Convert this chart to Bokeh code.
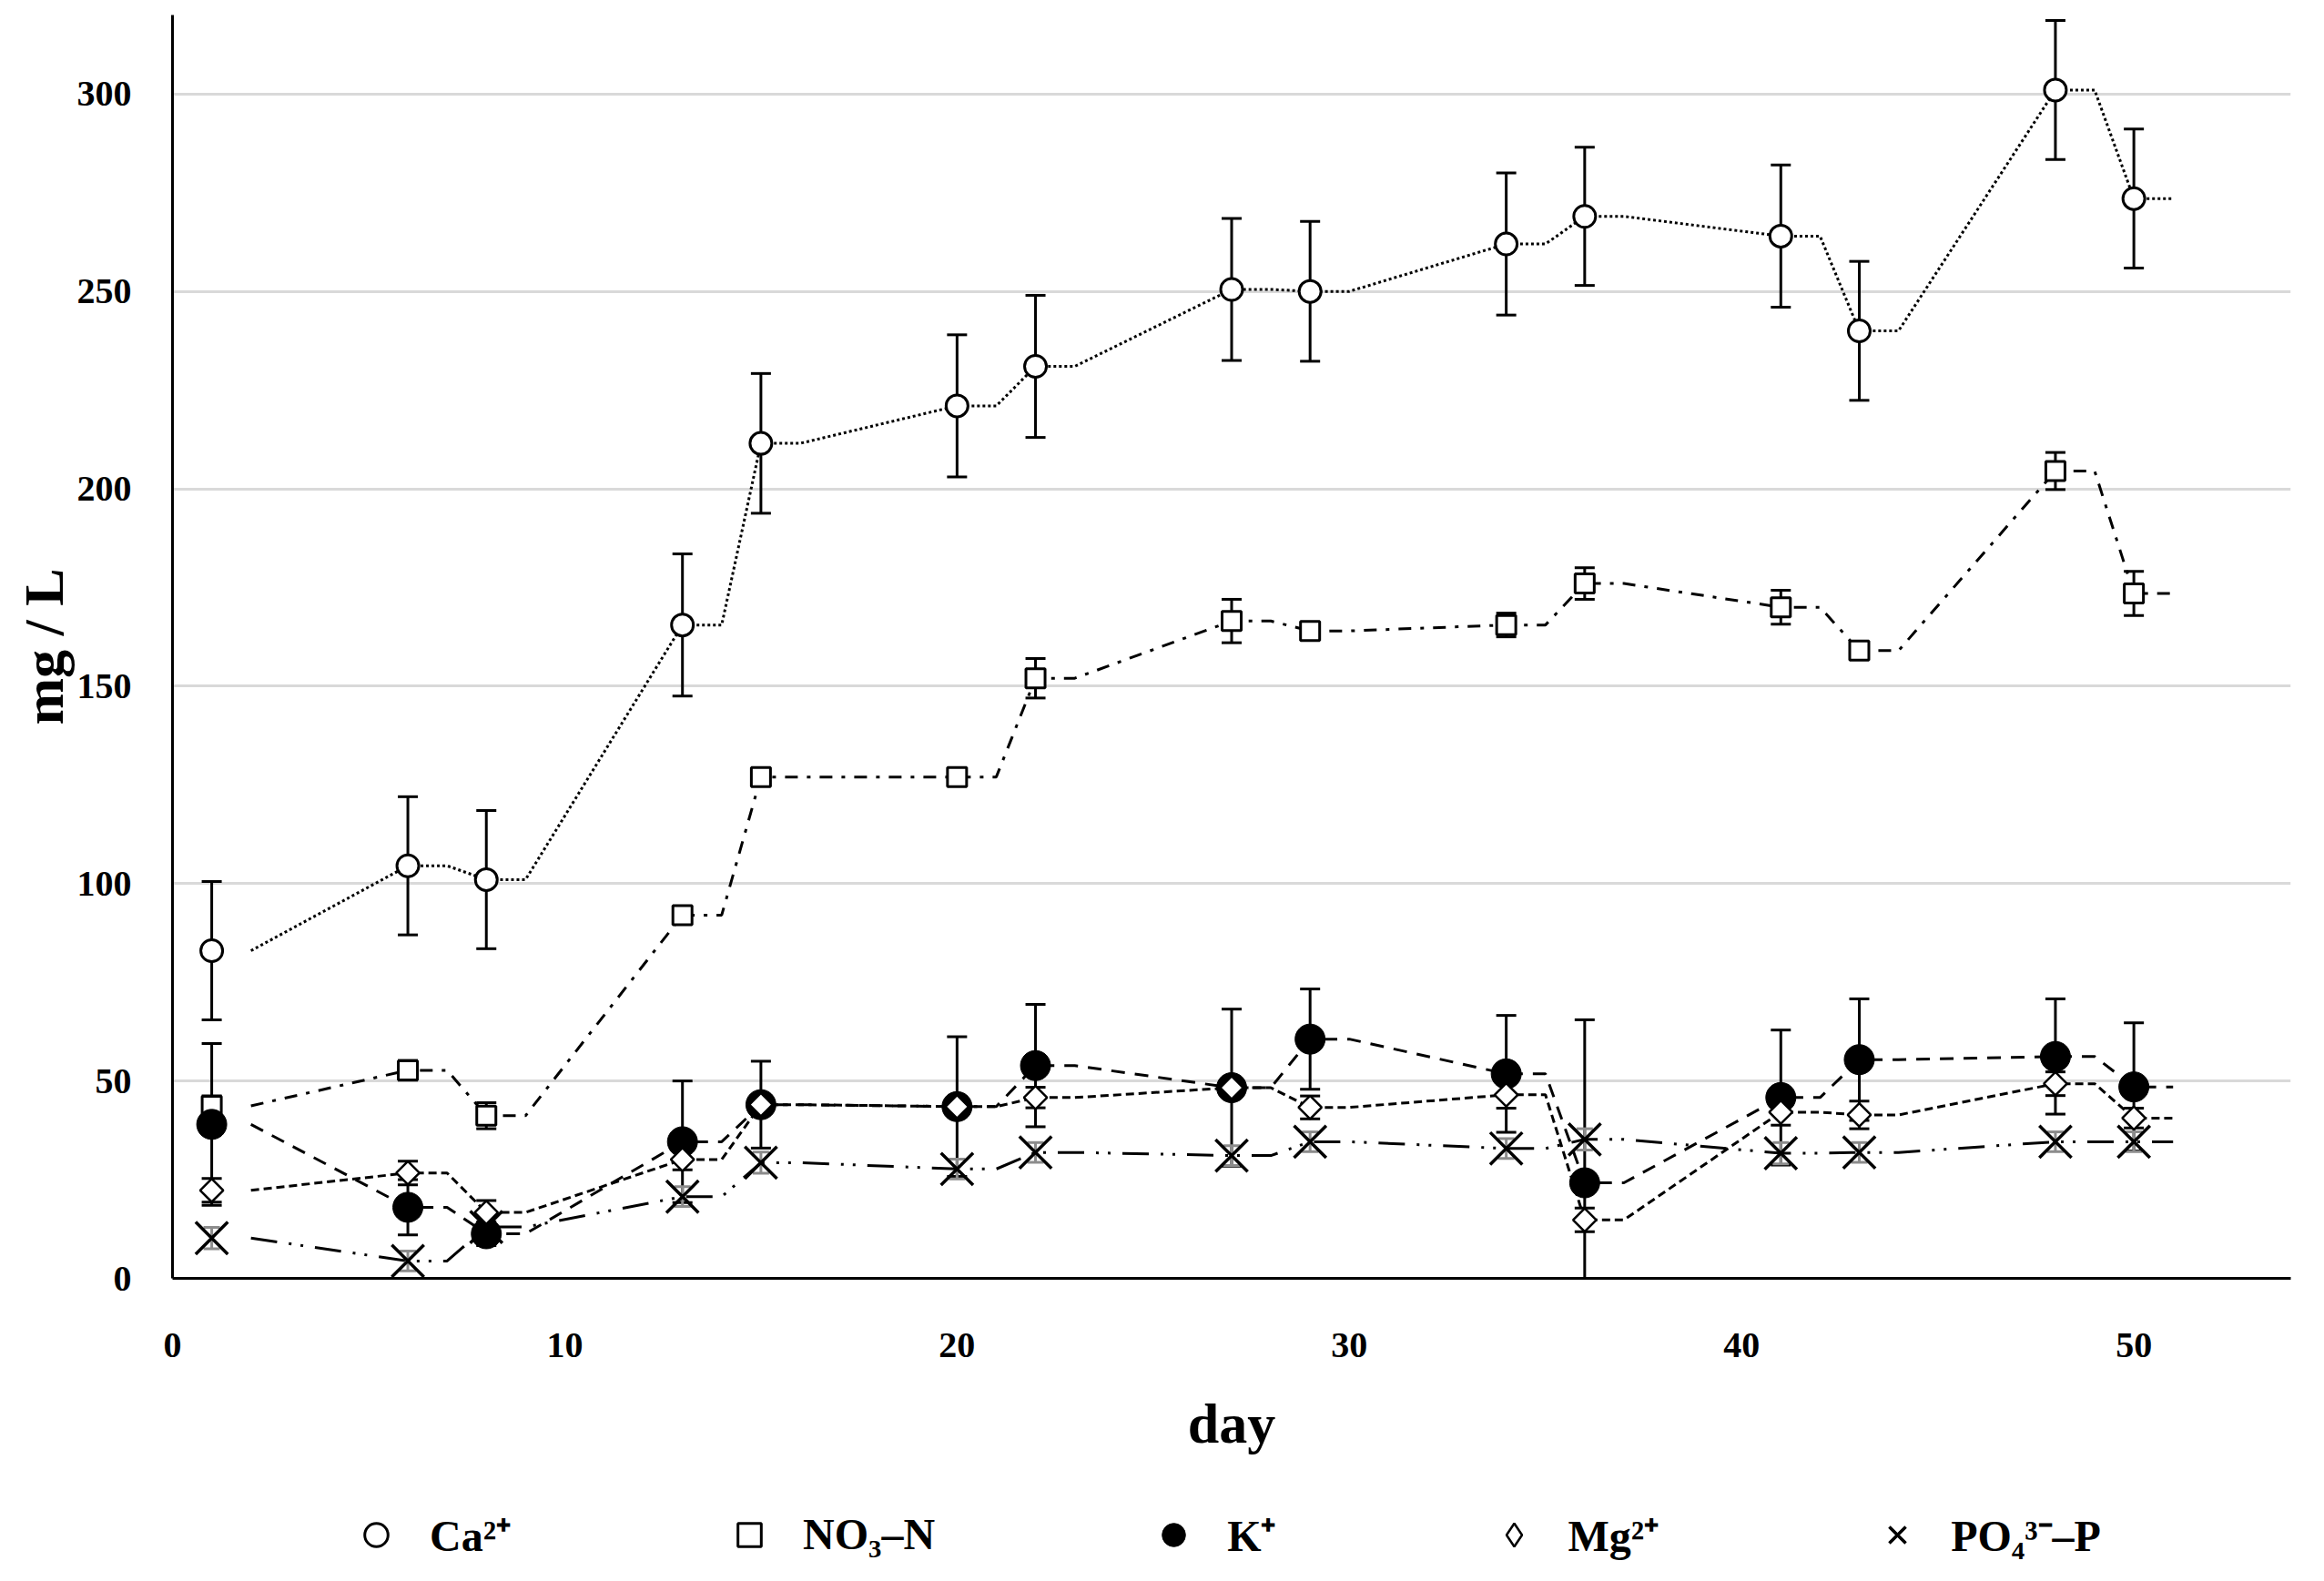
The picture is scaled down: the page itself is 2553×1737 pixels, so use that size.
from bokeh.plotting import figure
from bokeh.models import (Range1d, FixedTicker, Whisker, TeeHead, ColumnDataSource,
                          Legend, LegendItem)
from bokeh.layouts import column
from bokeh.embed import file_html
from bokeh.resources import INLINE
import numpy as np

# ---------------- data ----------------
days = [1, 6, 8, 13, 15, 20, 22, 27, 29, 34, 36, 41, 43, 48, 50]

ca = [83, 104.5, 101, 165.5, 211.5, 221, 231, 250.5, 250, 262, 269, 264, 240, 301, 273.5]
ca_err = [17.5, 17.5, 17.5, 18, 17.7, 18, 18, 18, 17.7, 18, 17.5, 18, 17.6, 17.6, 17.6]

no3 = [43.7, 52.7, 41.2, 92, 127, 127, 152, 166.5, 164, 165.5, 176, 170, 159, 204.5, 173.5]
no3_err = [2.5, 2.5, 3.3, 2, 2, 2, 5, 5.5, 1.5, 3, 4, 4.3, 1.5, 4.7, 5.6]

k = [39, 18, 11.3, 34.6, 44, 43.5, 53.9, 48.3, 60.6, 51.8, 24.2, 45.8, 55.4, 56.2, 48.5]
k_err = [20.5, 7, 3, 15.4, 11, 17.7, 15.5, 19.9, 12.7, 14.8, 41.3, 17.1, 15.4, 14.6, 16.2]

mg = [22.3, 26.7, 16.7, 30.1, 44, 43.5, 45.8, 48.3, 43.3, 46.5, 14.8, 42.1, 41.4, 49.3, 40.6]
mg_err = [3, 3, 3, 2.6, 2.5, 2.5, 2.6, 2.5, 2.9, 3.4, 3, 3.3, 3.5, 3, 2.5]

po4 = [10.2, 4.4, 13, 20.7, 29.3, 27.7, 31.9, 31.1, 34.6, 32.9, 35.2, 31.7, 31.9, 34.6, 34.6]
po4_err = [2.7, 2.5, 2.5, 2.5, 2.7, 2.5, 2.5, 2.5, 2.5, 2.5, 2.7, 2.7, 2.5, 2.5, 2.5]

labels = ["Ca²⁺", "NO₃–N", "K⁺", "Mg²⁺", "PO₄³⁻–P"]
x_ticks = [0, 10, 20, 30, 40, 50]
y_ticks = [0, 50, 100, 150, 200, 250, 300]

FONT = "Liberation Serif"


def step_path(xs, ys):
    lx, ly = [xs[0] + 1], [ys[0]]
    for x, y in zip(xs[1:], ys[1:]):
        lx += [x, x + 1]
        ly += [y, y]
    return lx, ly


p = figure(width=2537, height=1604, x_range=Range1d(0, 54), y_range=Range1d(0, 320),
           output_backend="svg", toolbar_location=None,
           min_border_left=189, min_border_right=21, min_border_top=16, min_border_bottom=200)
p.outline_line_color = None
p.background_fill_color = "white"
p.xgrid.grid_line_color = None
p.ygrid.grid_line_color = "#d9d9d9"
p.ygrid.grid_line_width = 3

p.xaxis.ticker = FixedTicker(ticks=x_ticks)
p.yaxis.ticker = FixedTicker(ticks=y_ticks)
for ax in (p.xaxis, p.yaxis):
    ax.axis_line_color = "black"
    ax.axis_line_width = 3
    ax.major_tick_line_color = None
    ax.minor_tick_line_color = None
    ax.major_label_text_font = FONT
    ax.major_label_text_font_style = "bold"
    ax.major_label_text_font_size = "40px"
    ax.major_label_text_color = "black"
    ax.axis_label_text_font = FONT
    ax.axis_label_text_font_style = "bold"
    ax.axis_label_text_font_size = "62px"
    ax.axis_label_text_color = "black"
p.xaxis.axis_label = "day"
p.yaxis.axis_label = "mg / L"
p.xaxis.major_label_standoff = 54
p.xaxis.axis_label_standoff = 36
p.yaxis.major_label_standoff = 39
p.yaxis.axis_label_standoff = 0

series = [
    (ca, ca_err, 3, "3 3", dict(marker="circle", size=24, fill_color="white", line_width=3)),
    (no3, no3_err, 3, "14 10 4 10", dict(marker="square", size=21, fill_color="white", line_width=3)),
    (k, k_err, 3, "15 11", dict(marker="circle", size=33, fill_color="black", line_width=1)),
    (mg, mg_err, 3, "9 5", dict(marker="square", size=18, angle=np.pi / 4, fill_color="white", line_width=2.5)),
    (po4, po4_err, 3, "29 13 3 10 3 13", dict(marker="x", size=50, line_width=3.5)),
]

# lines first
for ys, err, lw, dash, mk in series:
    lx, ly = step_path(days, ys)
    p.line(lx, ly, line_color="black", line_width=lw, line_dash=dash)

# error bars (beneath markers)
for i, (ys, err, lw, dash, mk) in enumerate(series):
    upper = [y + e for y, e in zip(ys, err)]
    lower = [max(y - e, 0) for y, e in zip(ys, err)]
    src = ColumnDataSource(dict(x=days, upper=upper, lower=lower))
    col = "#8c8c8c" if i == 4 else "black"
    head = 18 if i == 4 else 22
    w = Whisker(source=src, base="x", upper="upper", lower="lower",
                line_color=col, line_width=3, level="underlay",
                upper_head=TeeHead(size=head, line_width=3, line_color=col),
                lower_head=TeeHead(size=head, line_width=3, line_color=col))
    p.add_layout(w)

# markers
for ys, err, lw, dash, mk in series:
    p.scatter(days, ys, line_color="black", **mk)

# ---------------- legend strip ----------------
p2 = figure(width=2537, height=117, x_range=Range1d(0, 1), y_range=Range1d(0, 1),
            output_backend="svg", toolbar_location=None, min_border=0,
            x_axis_location=None, y_axis_location=None)
p2.outline_line_color = None
p2.grid.visible = False

legend_glyphs = [
    dict(marker="circle", fill_color="white", line_width=3),
    dict(marker="square", fill_color="white", line_width=3),
    dict(marker="circle", fill_color="black", line_width=1),
    dict(marker="diamond", fill_color="white", line_width=2.5),
    dict(marker="x", line_width=3.5),
]
items = []
for lab, g in zip(labels, legend_glyphs):
    # off-range dummy point: only the legend swatch is visible
    r = p2.scatter(x=[-5], y=[-5], line_color="black", **g)
    items.append(LegendItem(label=lab, renderers=[r]))

legend = Legend(items=items, orientation="horizontal", location=(192, 3),
                glyph_width=64, glyph_height=64, label_standoff=27, spacing=230,
                padding=0, margin=0, border_line_color=None, background_fill_alpha=0,
                label_text_font=FONT, label_text_font_style="bold",
                label_text_font_size="48px", label_text_color="black")
p2.add_layout(legend)

layout = column(p, p2, spacing=0)
open("out.html", "w").write(file_html(layout, INLINE))
